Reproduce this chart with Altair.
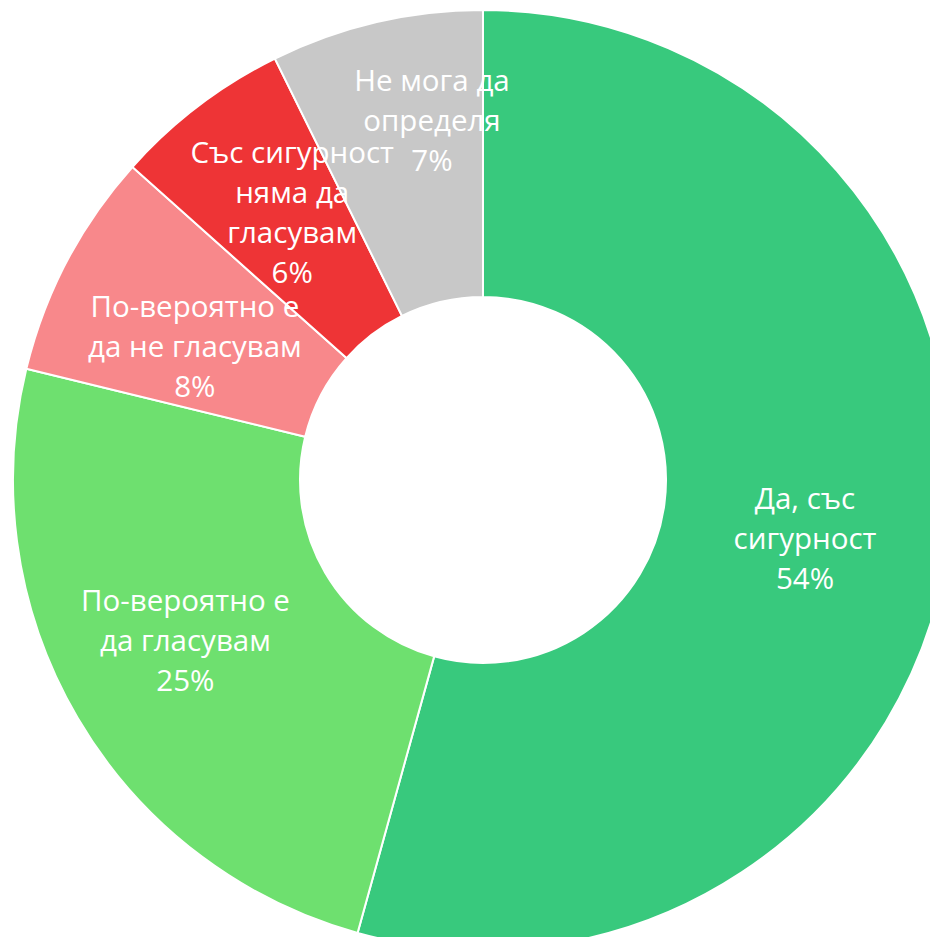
import altair as alt
import pandas as pd

labels = ["Да, със\nсигурност\n54%",
          "По-вероятно е\nда гласувам\n25%",
          "По-вероятно е\nда не гласувам\n8%",
          "Със сигурност\nняма да\nгласувам\n6%",
          "Не мога да\nопределя\n7%"]
categories = ["Да, със сигурност", "По-вероятно е да гласувам",
              "По-вероятно е да не гласувам", "Със сигурност няма да гласувам",
              "Не мога да определя"]
values = [54.3, 24.5, 7.8, 6.1, 7.3]
colors = ["#38C97D", "#6EE06F", "#F8888B", "#EE3436", "#C8C8C8"]

df = pd.DataFrame({"cat": categories, "value": values, "label": labels,
                   "order": list(range(len(values)))})

theta = alt.Theta("value:Q", stack=True)
color = alt.Color("cat:N", scale=alt.Scale(domain=categories, range=colors), legend=None)
order = alt.Order("order:Q")

base = alt.Chart(df).encode(theta=theta, order=order,
                            x=alt.value(475), y=alt.value(472))

arcs = base.mark_arc(outerRadius=470, innerRadius=183, stroke="white", strokeWidth=2).encode(color=color)

# per-label nudges (label placement inside slices)
nudges = [(-5, -24), (-13, -45), (4, -19), (9, -63), (24, -77)]

layers = [arcs]
for k, (ddx, ddy) in enumerate(nudges):
    t = base.transform_calculate(
        t=f"datum.order == {k} ? datum.label : ''"
    ).mark_text(
        radius=330, dx=ddx, dy=ddy, font="Open Sans", fontSize=29.5, lineHeight=40,
        color="white", lineBreak="\n", align="center", baseline="middle"
    ).encode(text="t:N")
    layers.append(t)

chart = alt.layer(*layers).properties(
    width=922, height=929, padding=0,
    autosize=alt.AutoSizeParams(type="none"),
).configure_view(stroke=None)

chart.save("out.html", embed_options={"renderer": "svg", "actions": False})
